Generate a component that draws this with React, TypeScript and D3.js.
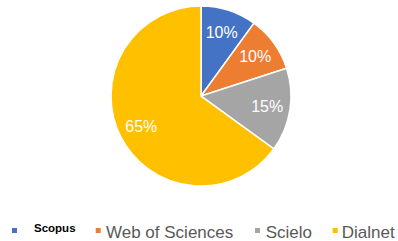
import React from "react";
import * as d3 from "d3";

const categories = ["Scopus", "Web of Sciences", "Scielo", "Dialnet"];
const values = [10, 10, 15, 65];
const labels = ["10%", "10%", "15%", "65%"];
const colors = ["#4472C4", "#ED7D31", "#A5A5A5", "#FFC000"];

const W = 398;
const H = 241;
const cx = 201;
const cy = 96;
const R = 90;
const labelR = 67;

const legendX = [12, 95.7, 255, 332.7];
const legendTextX = [34, 106, 265.7, 341.7];

export default function App() {
  const pie = d3.pie<number>().sort(null).value((d) => d)(values);
  const arc = d3.arc<d3.PieArcDatum<number>>().innerRadius(0).outerRadius(R);
  const labelArc = d3.arc<d3.PieArcDatum<number>>().innerRadius(labelR).outerRadius(labelR);
  return (
    <svg
      width={W}
      height={H}
      style={{ position: "absolute", left: 0, top: 0, background: "#fff" }}
      fontFamily="'Liberation Sans', Arial, sans-serif"
    >
      <g transform={`translate(${cx},${cy})`}>
        {pie.map((p, i) => (
          <path key={i} d={arc(p) || ""} fill={colors[i]} stroke="#fff" strokeWidth={1.5} />
        ))}
        {pie.map((p, i) => {
          const [x, y] = labelArc.centroid(p);
          return (
            <text
              key={"l" + i}
              x={x}
              y={y}
              dy="0.36em"
              textAnchor="middle"
              fill="#fff"
              fontSize={16}
            >
              {labels[i]}
            </text>
          );
        })}
      </g>
      {categories.map((c, i) => (
        <g key={"lg" + i}>
          <rect x={legendX[i]} y={228} width={5} height={5} fill={colors[i]} />
          {i === 0 ? (
            <text x={legendTextX[i]} y={231.5} fontSize={11.5} fontWeight="bold" fill="#000">
              {c}
            </text>
          ) : (
            <text x={legendTextX[i]} y={237.5} fontSize={17} fill="#595959">
              {c}
            </text>
          )}
        </g>
      ))}
    </svg>
  );
}
